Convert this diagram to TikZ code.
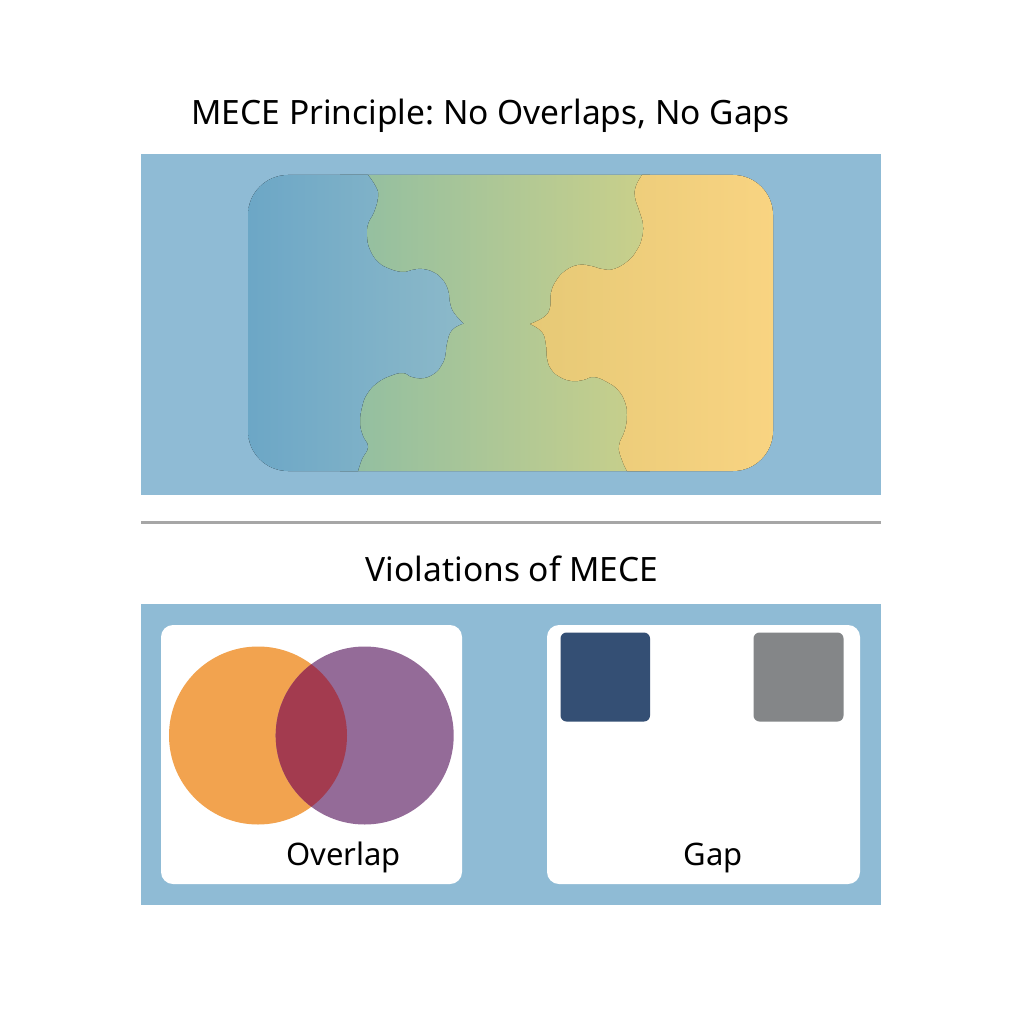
\documentclass[tikz,border=0pt]{standalone}
\usepackage{fontspec}
\setmainfont{Noto Sans}
\frenchspacing
\definecolor{panel}{HTML}{8FBBD5}
\definecolor{blA}{HTML}{6BA6C6}
\definecolor{blB}{HTML}{8CB9C9}
\definecolor{grA}{HTML}{90BEA2}
\definecolor{grB}{HTML}{CAD08A}
\definecolor{yeA}{HTML}{E6C976}
\definecolor{yeB}{HTML}{F9D482}
\definecolor{orng}{HTML}{F2A34F}
\definecolor{purp}{HTML}{946B98}
\definecolor{ovl}{HTML}{A33B4F}
\definecolor{dkblue}{HTML}{344F74}
\definecolor{gry}{HTML}{848688}
\definecolor{sepline}{HTML}{A6A6A6}
\tikzset{
  title/.style={inner sep=0pt, anchor=base, font=\fontsize{33.5}{40}\selectfont, text=black},
  label/.style={inner sep=0pt, anchor=base, font=\fontsize{31}{37}\selectfont, text=black},
  whitebox/.style={fill=white, rounded corners=12pt},
  sq/.style={rounded corners=6pt}
}
\begin{document}
\begin{tikzpicture}[x=1pt,y=-1pt]
\useasboundingbox[fill=white] (0,0) rectangle (1024,1024);
% title
\node[title] (t1) at (490.5,125) {MECE Principle: No Overlaps, No Gaps};
% top panel
\fill[panel] (141,154) rectangle (881,495);
\begin{scope}
\clip[rounded corners=40pt] (248,175) rectangle (773,471);
\fill[left color=grA, right color=grB] (340,170) rectangle (650,480);
\fill[left color=blA, right color=blB] (240,170) -- (368,170)
  -- plot[smooth, tension=0.75] coordinates {(368,175)(376,187)(378,197)(374,212)(368,224)(367,237)(370,250)(378,262)(390,269)(403,272)(412,270)(422,269)(433,272)(442,279)(448,290)(450,303)(454,313)(463.5,323.5)}
  -- plot[smooth, tension=0.75] coordinates {(463.5,323.5)(452,330)(447,343)(445,357)(441,366)(435,373)(424,378)(412,377)(403,373)(390,376)(377,383)(367,394)(362,407)(360,423)(363,436)(368,447)(362,459)(358,471)}
  -- (356,480) -- (240,480) -- cycle;
\fill[left color=yeA, right color=yeB] (780,170) -- (642,170)
  -- plot[smooth, tension=0.75] coordinates {(642,175)(636,186)(635,197)(639,210)(643,224)(642,238)(637,250)(628,261)(614,269)(602,269)(591,266)(578,265)(565,271)(556,281)(551,293)(550,308)(544,317)(530,324)}
  -- plot[smooth, tension=0.75] coordinates {(530,324)(542,332)(546,345)(547,358)(551,369)(560,377)(572,381)(583,380)(594,377)(607,382)(618,390)(625,402)(627,415)(625,430)(619,446)(622,460)(627,471)}
  -- (628,480) -- (780,480) -- cycle;
\end{scope}
% separator
\draw[sepline, line width=2.5pt] (141,522.5) -- (881,522.5);
\node[title] (t2) at (512,581.5) {Violations of MECE};
% bottom panel
\fill[panel] (141,604) rectangle (881,905);
\fill[whitebox] (161,625) rectangle (462,884);
\fill[whitebox] (547,625) rectangle (860,884);
% overlap circles
\fill[orng] (258,735.5) circle (89);
\fill[purp] (364.7,735.5) circle (89);
\begin{scope}
\clip (258,735.5) circle (89);
\fill[ovl] (364.7,735.5) circle (89);
\end{scope}
\node[label] (ov) at (343.5,865) {Overlap};
% gap squares
\fill[dkblue, sq] (560.5,632.5) rectangle (650,721.5);
\fill[gry, sq] (753.5,632.5) rectangle (843.5,721.5);
\node[label] (gp) at (713,865) {Gap};
\end{tikzpicture}
\end{document}
